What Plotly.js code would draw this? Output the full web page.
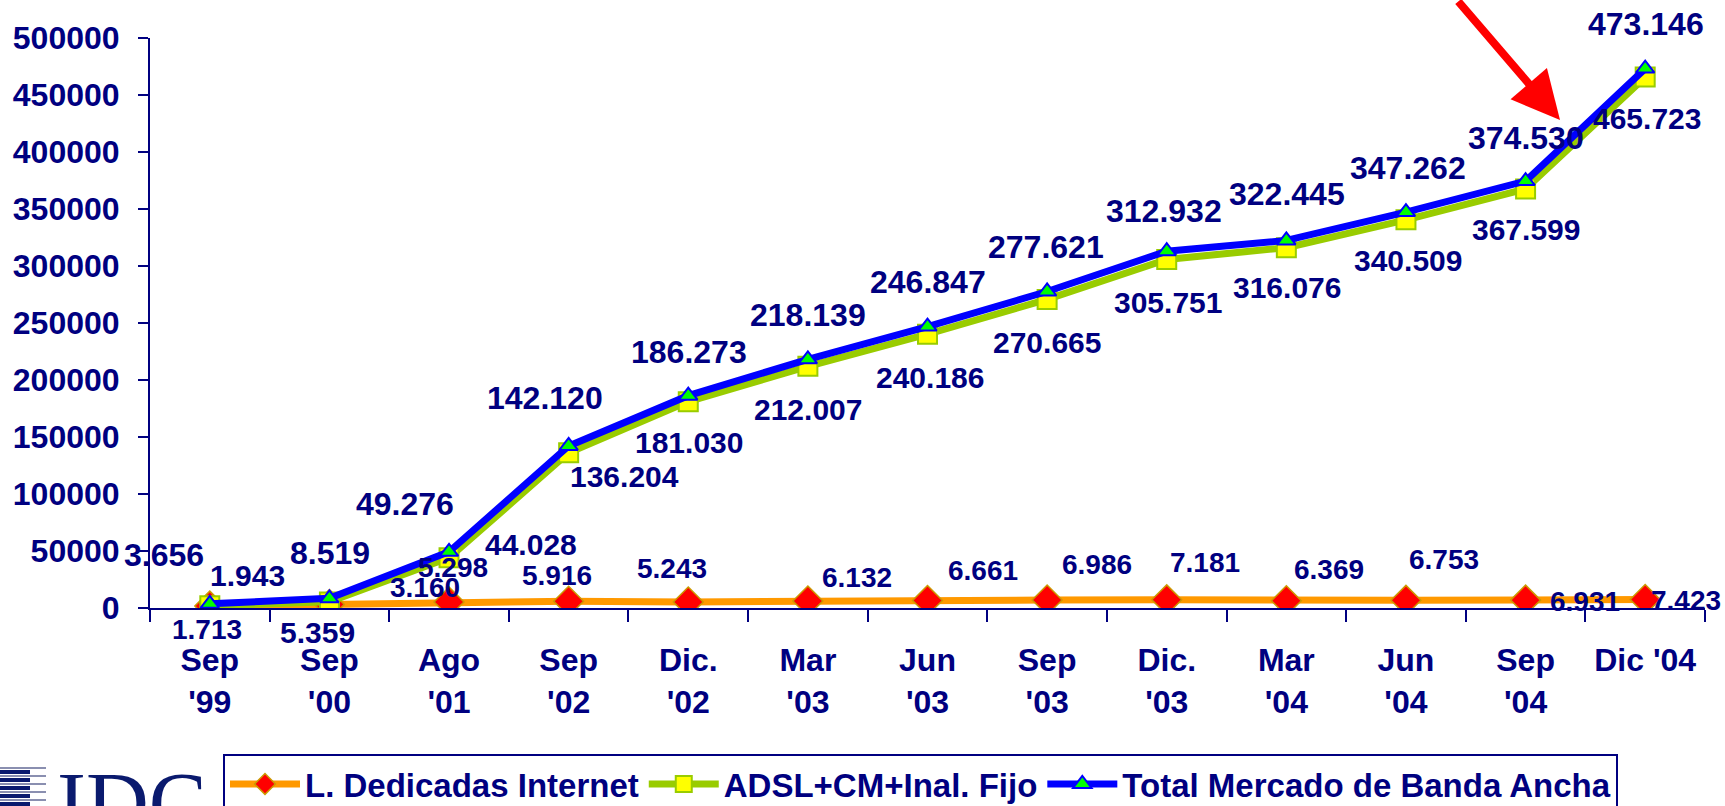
<!DOCTYPE html>
<html>
<head>
<meta charset="utf-8">
<script src="https://cdn.plot.ly/plotly-3.0.1.min.js"></script>
<style>
html,body{margin:0;padding:0;background:#fff;}
#chart{width:1725px;height:806px;}
</style>
</head>
<body>
<div id="chart"></div>
<script>
// ---- data ----
const categories = ["Sep<br>'99","Sep<br>'00","Ago<br>'01","Sep<br>'02","Dic.<br>'02","Mar<br>'03","Jun<br>'03","Sep<br>'03","Dic.<br>'03","Mar<br>'04","Jun<br>'04","Sep<br>'04","Dic '04"];
const dedicadas = [1713, 3160, 5298, 5916, 5243, 6132, 6661, 6986, 7181, 6369, 6753, 6931, 7423];
const adsl = [1943, 5359, 44028, 136204, 181030, 212007, 240186, 270665, 305751, 316076, 340509, 367599, 465723];
const total = [3656, 8519, 49276, 142120, 186273, 218139, 246847, 277621, 312932, 322445, 347262, 374530, 473146];
const seriesNames = ["L. Dedicadas Internet", "ADSL+CM+Inal. Fijo", "Total Mercado de Banda Ancha"];

// ---- label placement (pixel offsets from each point) ----
const offTotal = [[-46,-49],[1,-45],[-44,-48],[-24,-48],[1,-44],[0,-44],[0,-45],[-1,-45],[-3,-40],[1,-46],[2,-44],[0,-43],[1,-45]];
const offAdsl  = [[38,-30],[-12,31],[82,-13],[56,24],[1,41],[0,43],[2,43],[0,43],[1,43],[1,40],[2,41],[0,41],[2,41]];
const offDed   = [[-3,23],[96,-17],[4,-34],[-12,-26],[-16,-34],[49,-24],[55,-30],[50,-36],[38,-37],[43,-31],[38,-41],[59,1],[41,1]];

const NAVY = '#000080';
const FONT = 'Liberation Sans, Arial, sans-serif';

function fmt(v){ return String(v).replace(/\B(?=(\d{3})+(?!\d))/g, '.'); }

// plot area in pixels
const L = 150, R = 20, T = 38, B = 198, W = 1725, H = 806;
const PW = W - L - R, PH = H - T - B;
const px2x = p => (p - L) / PW;
const px2y = p => (H - B - p) / PH;

const traces = [
  {x: categories, y: dedicadas, name: seriesNames[0], type: 'scatter', mode: 'lines+markers',
   line: {color: '#FF9900', width: 7},
   marker: {symbol: 'diamond', size: 23, color: '#FF0000', line: {color: '#CC9900', width: 1.5}}},
  {x: categories, y: adsl, name: seriesNames[1], type: 'scatter', mode: 'lines+markers',
   line: {color: '#99CC00', width: 7},
   marker: {symbol: 'square', size: 19, color: '#FFFF00', line: {color: '#99CC00', width: 2}}},
  {x: categories, y: total, name: seriesNames[2], type: 'scatter', mode: 'lines+markers',
   line: {color: '#0000FF', width: 7},
   marker: {symbol: 'triangle-up', size: 16, color: '#00FF00', line: {color: '#0000FF', width: 2}}}
];

const annotations = [];
function addLabels(vals, offs, size){
  vals.forEach((v, i) => {
    annotations.push({x: categories[i], y: v, xref: 'x', yref: 'y', text: fmt(v), showarrow: false,
      xshift: offs[i][0], yshift: -offs[i][1], xanchor: 'center', yanchor: 'middle',
      font: {family: FONT, size: size, color: NAVY, weight: 'bold'}});
  });
}
addLabels(total, offTotal, 32);
addLabels(adsl, offAdsl, 30);
addLabels(dedicadas, offDed, 28);

// red arrow
annotations.push({xref: 'paper', yref: 'paper', x: px2x(1560), y: px2y(120), text: '', showarrow: true,
  ax: -103, ay: -125, arrowcolor: '#FF0000', arrowwidth: 8, arrowhead: 2, arrowsize: 1.2, standoff: 0});

// IDC logo text
annotations.push({xref: 'paper', yref: 'paper', x: px2x(132), y: px2y(752), xanchor: 'center', yanchor: 'top',
  text: 'IDC', showarrow: false, font: {family: 'Liberation Serif, Times New Roman, serif', size: 87, color: '#0A1A6E'}});

const shapes = [];
const navyBars = [772, 780, 788, 796, 804];
const grayBars = [768, 776, 784, 792, 800];
grayBars.forEach(y => shapes.push({type: 'line', xref: 'paper', yref: 'paper', x0: px2x(0), x1: px2x(46), y0: px2y(y), y1: px2y(y), line: {color: '#8A8FB0', width: 2}}));
navyBars.forEach(y => shapes.push({type: 'line', xref: 'paper', yref: 'paper', x0: px2x(0), x1: px2x(30), y0: px2y(y), y1: px2y(y), line: {color: '#0A1A6E', width: 4}}));

const layout = {
  width: W, height: H,
  margin: {l: L, r: R, t: T, b: B, pad: 0, autoexpand: false},
  paper_bgcolor: '#FFFFFF', plot_bgcolor: '#FFFFFF',
  showlegend: true,
  legend: {orientation: 'h', x: px2x(223), xanchor: 'left', y: px2y(754), yanchor: 'top',
    bordercolor: NAVY, borderwidth: 2, bgcolor: '#FFFFFF', itemwidth: 70,
    font: {family: FONT, size: 33, color: NAVY, weight: 'bold'}, traceorder: 'normal'},
  xaxis: {type: 'category', range: [-0.5, 12.5], showgrid: false, zeroline: false, automargin: false,
    showline: true, linecolor: NAVY, linewidth: 2,
    ticks: 'outside', tickson: 'boundaries', ticklen: 12, tickwidth: 2, tickcolor: NAVY, ticklabelstandoff: 23,
    tickfont: {family: FONT, size: 32, color: NAVY, weight: 'bold'}, tickangle: 0, fixedrange: true},
  yaxis: {range: [0, 500000], dtick: 50000, tickformat: 'd', showgrid: false, zeroline: false, automargin: false,
    showline: true, linecolor: NAVY, linewidth: 2,
    ticks: 'outside', ticklen: 10, tickwidth: 2, tickcolor: NAVY, ticklabelstandoff: 12,
    tickfont: {family: FONT, size: 32, color: NAVY, weight: 'bold'}, fixedrange: true},
  annotations: annotations,
  shapes: shapes,
  hovermode: false
};

Plotly.newPlot('chart', traces, layout, {displayModeBar: false, staticPlot: true});
</script>
</body>
</html>
